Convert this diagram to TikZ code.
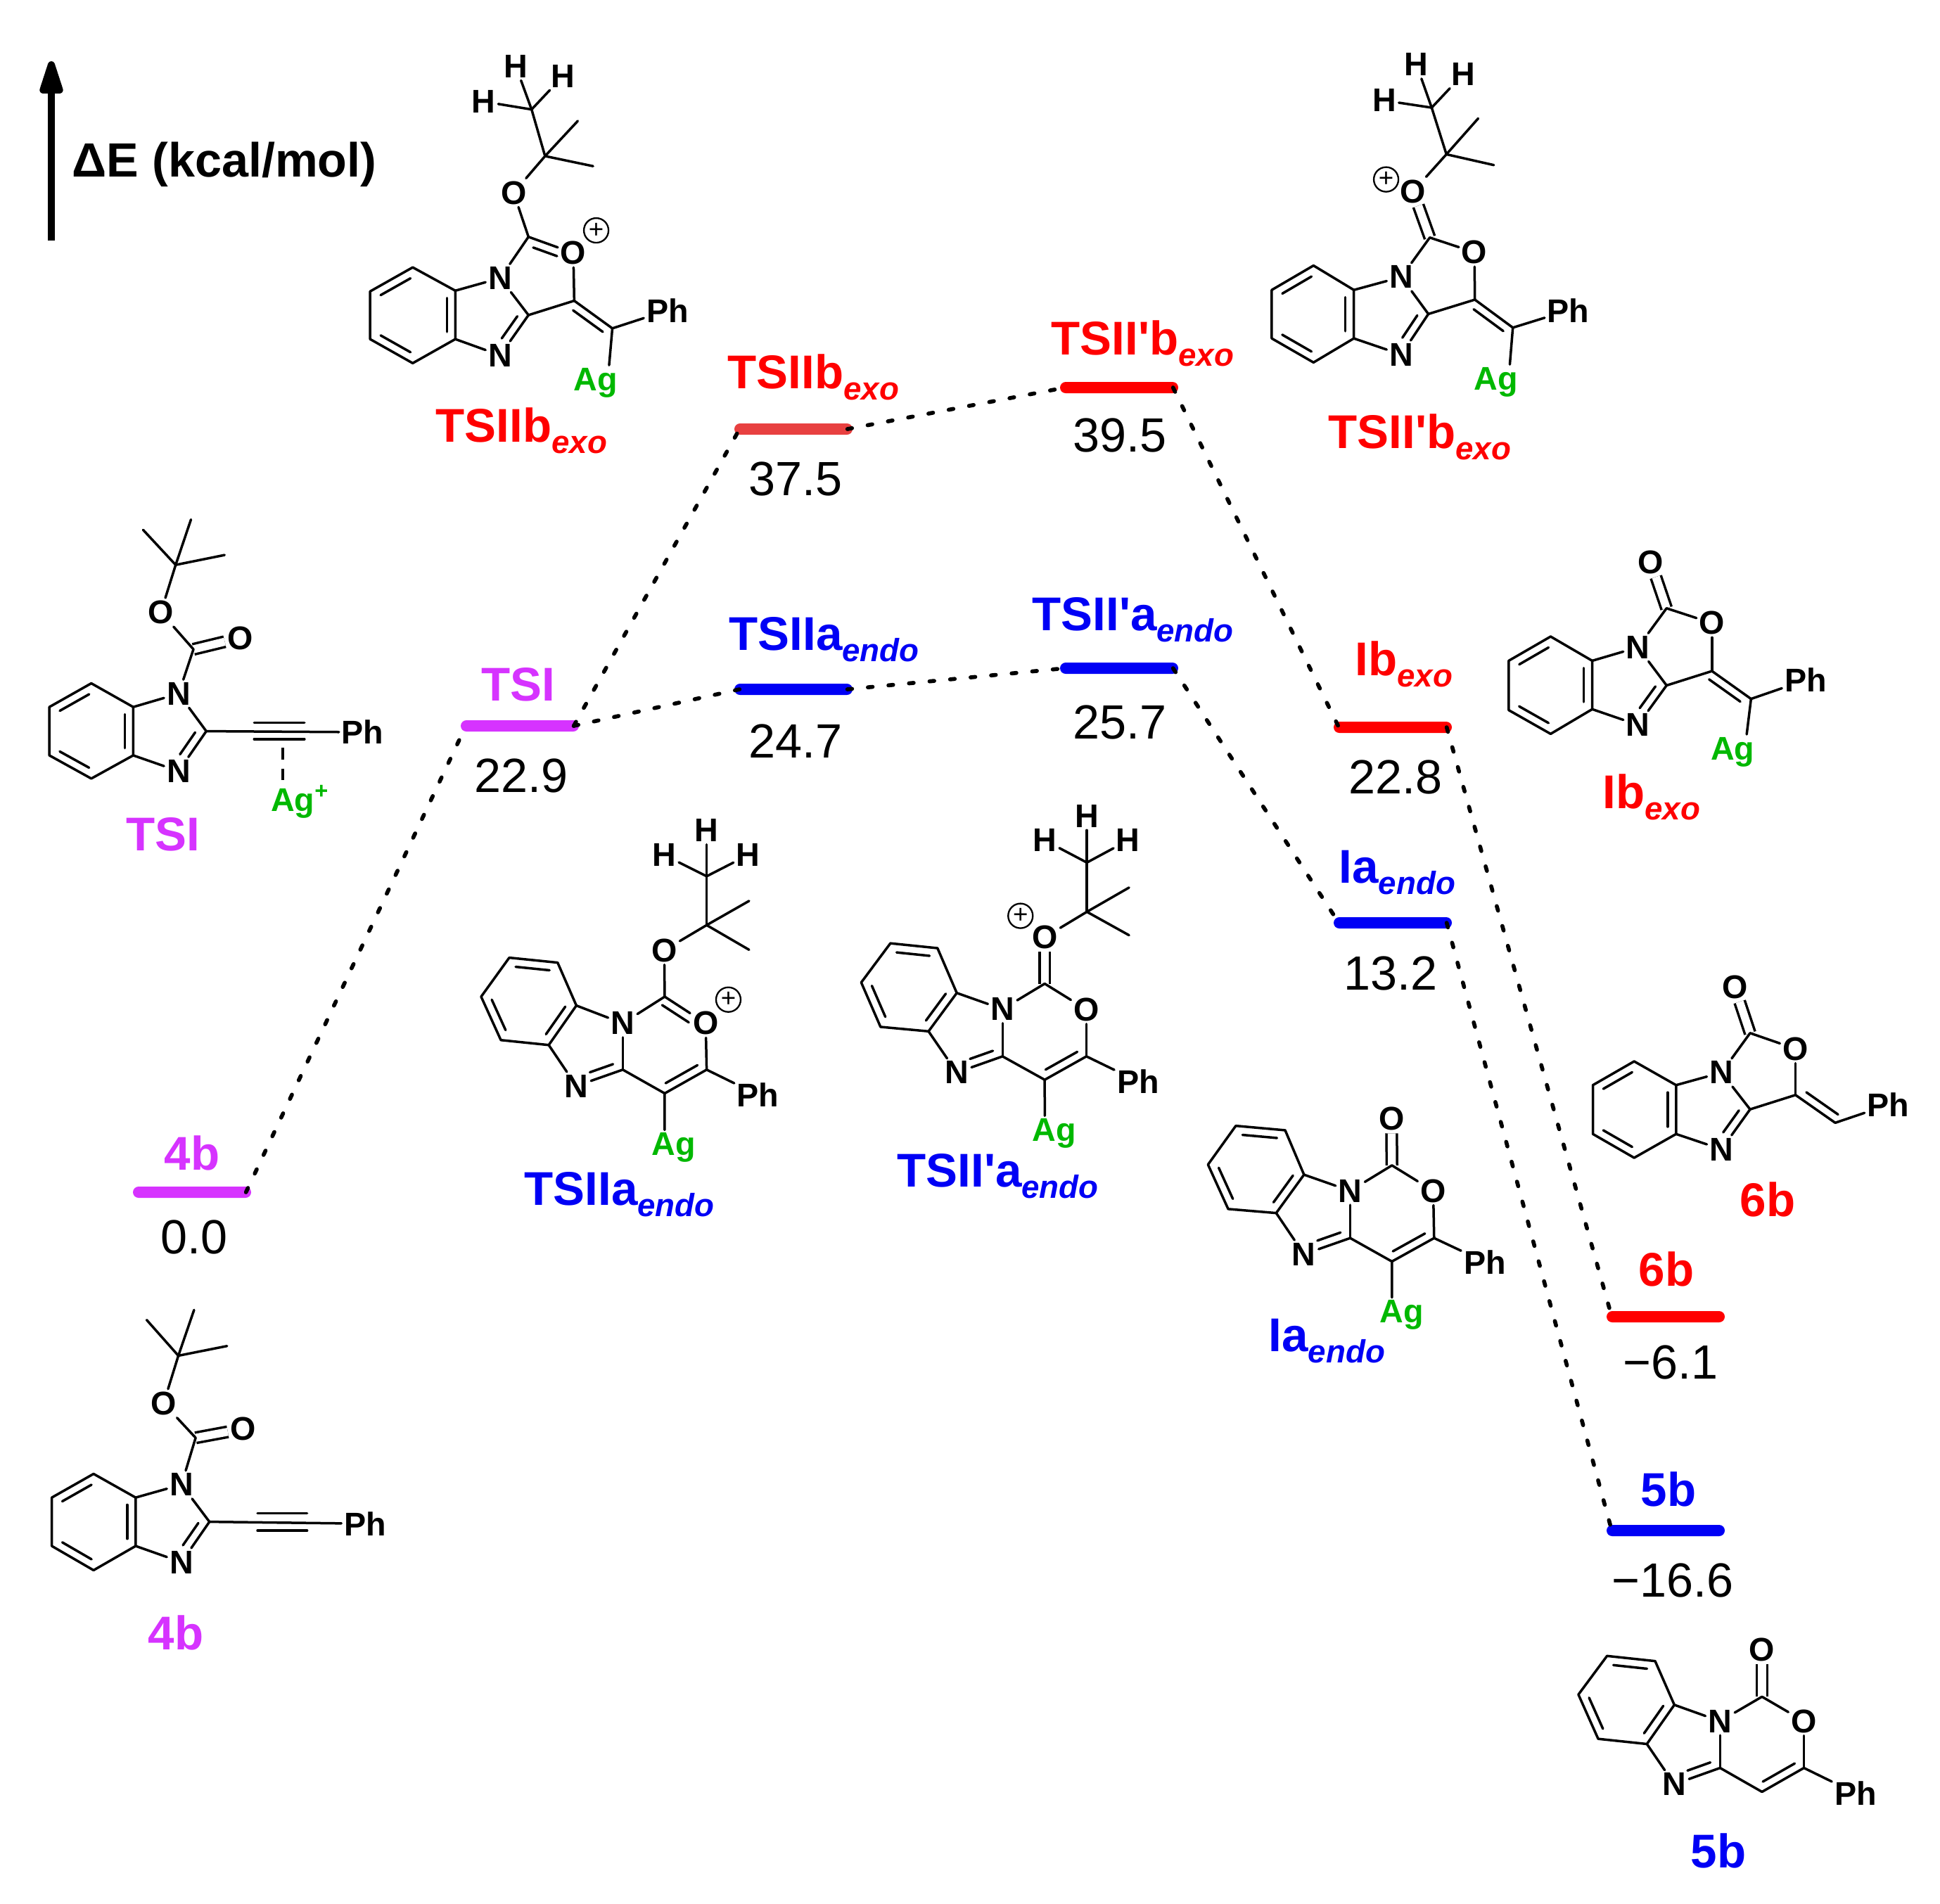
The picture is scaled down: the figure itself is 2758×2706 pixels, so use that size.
\documentclass[tikz,border=0pt]{standalone}
\usepackage{fontspec}
\setmainfont{Liberation Sans}
\usetikzlibrary{calc,arrows.meta}
\definecolor{agreen}{RGB}{0,184,0}
\definecolor{mag}{RGB}{214,51,255}
\definecolor{pblue}{RGB}{0,0,245}
\definecolor{pred}{RGB}{255,0,0}
\definecolor{sred}{RGB}{232,64,64}
\tikzset{
 bond/.style={line width=1.05pt,line cap=round,line join=round},
 dbl/.style={line width=1.05pt,double,double distance=3.4pt},
 atom/.style={font=\bfseries\fontsize{14}{16}\selectfont,inner sep=1pt},
 ag/.style={atom,text=agreen,yshift=-1pt},
 charge/.style={circle,draw,line width=.7pt,inner sep=0pt,minimum size=10.5pt,font=\fontsize{11}{11}\selectfont},
 lvl/.style={rectangle,fill=#1,rounded corners=2.4pt,minimum height=4.8pt,minimum width=50.4pt,inner sep=0pt},
 conn/.style={line width=1.7pt,line cap=round,dash pattern=on 2pt off 6.8pt},
 num/.style={font=\fontsize{20.5}{25}\selectfont,inner sep=0pt},
 lab/.style={font=\bfseries\fontsize{20.2}{24}\selectfont,text=#1,inner sep=0pt},
 labw/.style={lab=#1,anchor=base west},
 z1/.style={shift={(0,0)},x=.19133pt,y=-.15306pt},
 z2/.style={shift={(1700,0)},x=.20243pt,y=-.15306pt},
 z3/.style={shift={(0,700)},x=.21046pt,y=-.21046pt},
 z4/.style={shift={(1100,1100)},x=.19133pt,y=-.17222pt},
 z5/.style={shift={(2050,750)},x=.13546pt,y=-.19133pt},
 z6/.style={shift={(2100,2100)},x=.12589pt,y=-.11594pt},
 z7/.style={shift={(0,1800)},x=.13393pt,y=-.11480pt},
}
\newcommand{\sbs}[1]{\raisebox{-5pt}{\fontsize{13.7}{16}\selectfont\itshape #1}}
\newcommand{\dl}[4]{\draw[bond] ($(#1)!#3!(#2)!3.6pt!90:(#2)$) -- ($(#2)!#4!(#1)!3.6pt!-90:(#1)$);}
\newcommand{\dr}[4]{\draw[bond] ($(#1)!#3!(#2)!3.6pt!-90:(#2)$) -- ($(#2)!#4!(#1)!3.6pt!90:(#1)$);}
\newcommand{\ringpts}[6]{\coordinate (b1) at #1;\coordinate (b2) at #2;\coordinate (b3) at #3;\coordinate (b4) at #4;\coordinate (b5) at #5;\coordinate (b6) at #6;
 \draw[bond] (b1)--(b2)--(b3)--(b4)--(b5)--(b6)--cycle;}
\newcommand{\ringccw}[6]{\ringpts{#1}{#2}{#3}{#4}{#5}{#6}\dl{b1}{b2}{.15}{.15}\dl{b3}{b4}{.15}{.15}\dl{b5}{b6}{.15}{.15}}
\newcommand{\ringcw}[6]{\ringpts{#1}{#2}{#3}{#4}{#5}{#6}\dr{b1}{b2}{.15}{.15}\dr{b3}{b4}{.15}{.15}\dr{b5}{b6}{.15}{.15}}
\newcommand{\bonds}[1]{\foreach \pa/\pb in {#1}{\draw[bond] (\pa)--(\pb);}}
\begin{document}
\begin{tikzpicture}[x=.3pt,y=-.3pt]
\path[use as bounding box,fill=white] (0,0) rectangle (2758,2706);

% axis
\coordinate (axb) at (73,342);
\coordinate (axt) at (73,87);
\draw[line width=3pt,-{Triangle[length=17.7pt,width=10.2pt,round]}] (axb) -- (axt);
\node[font=\bfseries\fontsize{20.5}{24}\selectfont,inner sep=0pt,anchor=base west] (axlab) at (102,251) {ΔE (kcal/mol)};

% levels
\node[lvl=mag] (L4b) at (273,1695) {};
\node[lvl=mag] (LTSI) at (739,1032) {};
\node[lvl=sred] (LIIb) at (1128,610) {};
\node[lvl=pred] (LIIpb) at (1591,551) {};
\node[lvl=pblue] (LIIa) at (1128,980) {};
\node[lvl=pblue] (LIIpa) at (1591,950) {};
\node[lvl=pred] (LIb) at (1980,1034) {};
\node[lvl=pblue] (LIa) at (1980,1312) {};
\node[lvl=pred] (L6b) at (2368,1872) {};
\node[lvl=pblue] (L5b) at (2368,2176) {};

\draw[conn] ([xshift=-2.4pt]L4b.east) -- ([xshift=2.4pt]LTSI.west);
\draw[conn] ([xshift=-2.4pt]LTSI.east) -- ([xshift=2.4pt]LIIb.west);
\draw[conn] ([xshift=-2.4pt]LTSI.east) -- ([xshift=2.4pt]LIIa.west);
\draw[conn] ([xshift=-2.4pt]LIIb.east) -- ([xshift=2.4pt]LIIpb.west);
\draw[conn] ([xshift=-2.4pt]LIIa.east) -- ([xshift=2.4pt]LIIpa.west);
\draw[conn] ([xshift=-2.4pt]LIIpb.east) -- ([xshift=2.4pt]LIb.west);
\draw[conn] ([xshift=-2.4pt]LIIpa.east) -- ([xshift=2.4pt]LIa.west);
\draw[conn] ([xshift=-2.4pt]LIb.east) -- ([xshift=2.4pt]L6b.west);
\draw[conn] ([xshift=-2.4pt]LIa.east) -- ([xshift=2.4pt]L5b.west);

% level labels and values
\node[lab=mag] (t4b) at (273,1639) {4b};
\node[num] (v4b) at (276,1759) {0.0};
\node[lab=mag] (tTSI) at (737,973) {TSI};
\node[num] (vTSI) at (741,1103) {22.9};
\node[labw=pred] (tIIb) at (1034,552) {TSIIb\sbs{exo}};
\node[num] (vIIb) at (1131,681) {37.5};
\node[labw=pred] (tIIpb) at (1494,504) {TSII\textquotesingle b\sbs{exo}};
\node[num] (vIIpb) at (1592,619) {39.5};
\node[labw=pblue] (tIIa) at (1036,924) {TSIIa\sbs{endo}};
\node[num] (vIIa) at (1131,1054) {24.7};
\node[labw=pblue] (tIIpa) at (1467,896) {TSII\textquotesingle a\sbs{endo}};
\node[num] (vIIpa) at (1592,1027) {25.7};
\node[labw=pred] (tIb) at (1926,960) {Ib\sbs{exo}};
\node[num] (vIb) at (1984,1105) {22.8};
\node[labw=pblue] (tIa) at (1903,1255) {Ia\sbs{endo}};
\node[num] (vIa) at (1977,1384) {13.2};
\node[lab=pred] (t6b) at (2369,1804) {6b};
\node[num] (v6b) at (2375,1937) {−6.1};
\node[lab=pblue] (t5b) at (2372,2117) {5b};
\node[num] (v5b) at (2378,2247) {−16.6};

% compound labels
\node[labw=pred] (cIIb) at (619,628) {TSIIb\sbs{exo}};
\node[labw=pred] (cIIpb) at (1888,637) {TSII\textquotesingle b\sbs{exo}};
\node[lab=mag] (cTSI) at (232,1186) {TSI};
\node[lab=mag] (c4b) at (250,2321) {4b};
\node[labw=pblue] (cIIa) at (745,1713) {TSIIa\sbs{endo}};
\node[labw=pblue] (cIIpa) at (1275,1687) {TSII\textquotesingle a\sbs{endo}};
\node[labw=pblue] (cIa) at (1803,1921) {Ia\sbs{endo}};
\node[labw=pred] (cIb) at (2278,1149) {Ib\sbs{exo}};
\node[lab=pred] (c6b) at (2513,1705) {6b};
\node[lab=pblue] (c5b) at (2443,2631) {5b};

% TSIIb exo structure
\begin{scope}[z1,name prefix=A-]
\ringccw{(920,745)}{(825,812)}{(825,945)}{(920,1012)}{(1015,945)}{(1015,810)}
\node[atom] (N1) at (1115,775) {N};
\node[atom] (N3) at (1115,990) {N};
\coordinate (C2) at (1178,878);
\coordinate (C5) at (1280,838);
\node[atom] (O1) at (1278,705) {O};
\coordinate (Cc) at (1178,660);
\node[atom] (O2) at (1145,537) {O};
\coordinate (Cq) at (1215,435);
\coordinate (M1) at (1288,337);
\coordinate (M2) at (1322,463);
\coordinate (Cm) at (1185,305);
\node[atom] (H1) at (1150,185) {H};
\node[atom] (H2) at (1255,212) {H};
\node[atom] (H3) at (1078,283) {H};
\coordinate (C6) at (1365,915);
\node[atom] (Ph) at (1488,865) {Ph};
\node[ag] (Ag) at (1328,1060) {Ag};
\node[charge] (ch) at (1329,642) {+};
\bonds{N1/b6,N3/b5,N1/C2,N3/C2,C2/C5,C5/O1,Cc/O1,N1/Cc,Cc/O2,O2/Cq,Cq/M1,Cq/M2,Cq/Cm,Cm/H1,Cm/H2,Cm/H3,C5/C6,C6/Ph}
\dl{N3}{C2}{.3}{.15}
\dr{Cc}{O1}{.17}{.3}
\dr{C5}{C6}{.1}{.12}
\draw[bond] (C6) -- ([xshift=5.7pt]Ag.north);
\end{scope}

% TSII'b exo structure
\begin{scope}[z2,name prefix=B-]
\ringccw{(248,740)}{(160,808)}{(160,943)}{(248,1010)}{(333,943)}{(333,808)}
\node[atom] (N1) at (433,772) {N};
\node[atom] (N3) at (433,988) {N};
\coordinate (C2) at (490,875);
\coordinate (C5) at (588,835);
\node[atom] (O1) at (587,703) {O};
\coordinate (Cc) at (493,662);
\node[atom] (O2) at (458,533) {O};
\draw[dbl] (Cc) -- (O2);
\coordinate (Cq) at (528,430);
\coordinate (M1) at (595,330);
\coordinate (M2) at (628,460);
\coordinate (Cm) at (497,300);
\node[atom] (H1) at (465,180) {H};
\node[atom] (H2) at (563,207) {H};
\node[atom] (H3) at (397,280) {H};
\coordinate (C6) at (668,913);
\node[atom] (Ph) at (785,865) {Ph};
\node[ag] (Ag) at (632,1058) {Ag};
\node[charge] (ch) at (401,500) {+};
\bonds{N1/b6,N3/b5,N1/C2,N3/C2,C2/C5,C5/O1,Cc/O1,N1/Cc,O2/Cq,Cq/M1,Cq/M2,Cq/Cm,Cm/H1,Cm/H2,Cm/H3,C5/C6,C6/Ph}
\dl{N3}{C2}{.3}{.15}
\dr{C5}{C6}{.1}{.12}
\draw[bond] (C6) -- ([xshift=6pt]Ag.north);
\end{scope}

% TSI structure
\begin{scope}[z3,name prefix=C-]
\ringccw{(185,387)}{(100,435)}{(100,533)}{(185,580)}{(270,533)}{(270,435)}
\node[atom] (N1) at (362,408) {N};
\node[atom] (N3) at (362,565) {N};
\coordinate (C2) at (418,484);
\coordinate (Cc) at (392,318);
\node[atom] (O2) at (326,243) {O};
\node[atom] (O1) at (487,295) {O};
\draw[dbl] (Cc) -- (O1);
\coordinate (Cq) at (356,147);
\coordinate (M1) at (290,76);
\coordinate (M2) at (387,55);
\coordinate (M3) at (455,127);
\node[atom] (Ph) at (735,486) {Ph};
\coordinate (t1) at (515,467);
\coordinate (t2) at (617,467);
\coordinate (t3) at (515,500);
\coordinate (t4) at (617,500);
\coordinate (dt) at (573,518);
\node[ag,yshift=-.5pt] (Ag) at (608,620) {Ag\textsuperscript{+}};
\bonds{N1/b6,N3/b5,N1/C2,N3/C2,N1/Cc,Cc/O2,O2/Cq,Cq/M1,Cq/M2,Cq/M3,C2/Ph,t1/t2,t3/t4}
\dl{N3}{C2}{.3}{.15}
\draw[line width=1.05pt,dash pattern=on 5pt off 3.8pt] (dt) -- (dt |- Ag.north);
\end{scope}

% 4b structure
\begin{scope}[z7,name prefix=D-]
\ringccw{(298,772)}{(165,860)}{(165,1040)}{(298,1130)}{(432,1040)}{(432,860)}
\node[atom] (N1) at (578,812) {N};
\node[atom] (N3) at (578,1100) {N};
\coordinate (C2) at (667,950);
\coordinate (Cc) at (623,638);
\node[atom] (O2) at (521,510) {O};
\node[atom] (O1) at (775,605) {O};
\draw[dbl] (Cc) -- (O1);
\coordinate (Cq) at (568,333);
\coordinate (M1) at (467,200);
\coordinate (M2) at (618,163);
\coordinate (M3) at (723,297);
\node[atom] (Ph) at (1163,957) {Ph};
\coordinate (t1) at (820,918);
\coordinate (t2) at (978,918);
\coordinate (t3) at (820,983);
\coordinate (t4) at (978,983);
\bonds{N1/b6,N3/b5,N1/C2,N3/C2,N1/Cc,Cc/O2,O2/Cq,Cq/M1,Cq/M2,Cq/M3,C2/Ph,t1/t2,t3/t4}
\dl{N3}{C2}{.3}{.15}
\end{scope}

% TSIIa endo structure
\begin{scope}[z3,name prefix=E-]
\ringcw{(1032,943)}{(1130,953)}{(1168,1040)}{(1112,1120)}{(1015,1110)}{(975,1022)}
\node[atom] (N1) at (1262,1076) {N};
\node[atom] (N3) at (1168,1203) {N};
\coordinate (C2) at (1262,1170);
\coordinate (C4) at (1347,1218);
\coordinate (C5) at (1432,1170);
\node[atom] (O1) at (1430,1076) {O};
\coordinate (Cc) at (1347,1022);
\node[atom] (O2) at (1346,928) {O};
\coordinate (Cq) at (1432,877);
\coordinate (M1) at (1518,828);
\coordinate (M2) at (1518,927);
\coordinate (Cm) at (1432,778);
\node[atom] (H1) at (1432,685) {H};
\node[atom] (H2) at (1346,735) {H};
\node[atom] (H3) at (1516,735) {H};
\node[atom] (Ph) at (1536,1221) {Ph};
\node[ag] (Ag) at (1365,1323) {Ag};
\node[charge] (ch) at (1476,1028) {+};
\bonds{b3/N1,b4/N3,N1/C2,N3/C2,C2/C4,C4/C5,C5/O1,Cc/O1,N1/Cc,Cc/O2,O2/Cq,Cq/M1,Cq/M2,Cq/Cm,Cm/H1,Cm/H2,Cm/H3,C5/Ph}
\dl{N3}{C2}{.35}{.15}
\dl{C4}{C5}{.12}{.12}
\dr{Cc}{O1}{.05}{.3}
\draw[bond] (C4) -- ([xshift=-3.8pt]Ag.north);
\end{scope}

% TSII'a endo structure
\begin{scope}[z4,name prefix=F-]
\ringcw{(260,420)}{(365,432)}{(408,543)}{(345,638)}{(238,627)}{(195,517)}
\node[atom] (N1) at (510,583) {N};
\node[atom] (N3) at (408,740) {N};
\coordinate (C2) at (510,700);
\coordinate (C4) at (604,758);
\coordinate (C5) at (697,700);
\node[atom] (O1) at (697,584) {O};
\coordinate (Cc) at (604,520);
\node[atom] (O2) at (604,405) {O};
\draw[dbl] (Cc) -- (O2);
\coordinate (Cq) at (698,342);
\coordinate (M1) at (792,282);
\coordinate (M2) at (792,400);
\coordinate (Cm) at (698,220);
\node[atom] (H1) at (698,105) {H};
\node[atom] (H2) at (604,165) {H};
\node[atom] (H3) at (790,165) {H};
\node[atom] (Ph) at (812,762) {Ph};
\node[ag] (Ag) at (625,885) {Ag};
\node[charge] (ch) at (550,352) {+};
\bonds{b3/N1,b4/N3,N1/C2,N3/C2,C2/C4,C4/C5,C5/O1,Cc/O1,N1/Cc,O2/Cq,Cq/M1,Cq/M2,Cq/Cm,Cm/H1,Cm/H2,Cm/H3,C5/Ph}
\dl{N3}{C2}{.35}{.15}
\dl{C4}{C5}{.12}{.12}
\draw[bond] (C4) -- ([xshift=-4pt]Ag.north);
\end{scope}

% Ia endo structure
\begin{scope}[z4,name prefix=G-]
\ringcw{(1030,872)}{(1140,883)}{(1182,993)}{(1120,1088)}{(1013,1078)}{(968,968)}
\node[atom] (N1) at (1285,1033) {N};
\node[atom] (N3) at (1182,1190) {N};
\coordinate (C2) at (1285,1150);
\coordinate (C4) at (1378,1208);
\coordinate (C5) at (1472,1150);
\node[atom] (O1) at (1470,1033) {O};
\coordinate (Cc) at (1378,970);
\node[atom] (O2) at (1377,855) {O};
\draw[dbl] (Cc) -- (O2);
\node[atom] (Ph) at (1585,1209) {Ph};
\node[ag] (Ag) at (1400,1335) {Ag};
\bonds{b3/N1,b4/N3,N1/C2,N3/C2,C2/C4,C4/C5,C5/O1,Cc/O1,N1/Cc,C5/Ph}
\dl{N3}{C2}{.35}{.15}
\dl{C4}{C5}{.12}{.12}
\draw[bond] (C4) -- ([xshift=-4.2pt]Ag.north);
\end{scope}

% Ib exo structure
\begin{scope}[z5,name prefix=H-]
\ringccw{(342,243)}{(210,297)}{(210,407)}{(342,460)}{(473,405)}{(473,297)}
\node[atom] (N1) at (617,267) {N};
\node[atom] (N3) at (617,440) {N};
\coordinate (C2) at (707,352);
\coordinate (C5) at (850,320);
\node[atom] (O1) at (850,213) {O};
\coordinate (Cc) at (707,180);
\node[atom] (O2) at (658,78) {O};
\draw[dbl] (Cc) -- (O2);
\coordinate (C6) at (973,382);
\node[atom] (Ph) at (1145,340) {Ph};
\node[ag] (Ag) at (915,495) {Ag};
\bonds{N1/b6,N3/b5,N1/C2,N3/C2,C2/C5,C5/O1,Cc/O1,N1/Cc,C5/C6,C6/Ph}
\dl{N3}{C2}{.3}{.15}
\dr{C5}{C6}{.05}{.15}
\draw[bond] (C6) -- ([xshift=6pt]Ag.north);
\end{scope}

% 6b structure
\begin{scope}[z5,name prefix=I-]
\ringccw{(605,1190)}{(475,1243)}{(475,1352)}{(605,1405)}{(737,1352)}{(737,1243)}
\node[atom] (N1) at (880,1215) {N};
\node[atom] (N3) at (880,1386) {N};
\coordinate (C2) at (970,1297);
\coordinate (C5) at (1113,1265);
\node[atom] (O1) at (1113,1162) {O};
\coordinate (Cc) at (970,1127);
\node[atom] (O2) at (922,1025) {O};
\draw[dbl] (Cc) -- (O2);
\coordinate (C6) at (1238,1327);
\node[atom] (Ph) at (1405,1287) {Ph};
\bonds{N1/b6,N3/b5,N1/C2,N3/C2,C2/C5,C5/O1,Cc/O1,N1/Cc,C5/C6,C6/Ph}
\dl{N3}{C2}{.3}{.15}
\dl{C5}{C6}{.15}{.05}
\end{scope}

% 5b structure
\begin{scope}[z6,name prefix=J-]
\ringcw{(440,658)}{(603,677)}{(668,838)}{(575,982)}{(410,963)}{(343,800)}
\node[atom] (N1) at (823,898) {N};
\node[atom] (N3) at (668,1130) {N};
\coordinate (C2) at (823,1070);
\coordinate (C4) at (965,1158);
\coordinate (C5) at (1107,1070);
\node[atom] (O1) at (1107,898) {O};
\coordinate (Cc) at (965,808);
\node[atom] (O2) at (965,635) {O};
\draw[dbl] (Cc) -- (O2);
\node[atom] (Ph) at (1282,1163) {Ph};
\bonds{b3/N1,b4/N3,N1/C2,N3/C2,C2/C4,C4/C5,C5/O1,Cc/O1,N1/Cc,C5/Ph}
\dl{N3}{C2}{.35}{.15}
\dl{C4}{C5}{.12}{.12}
\end{scope}
\end{tikzpicture}
\end{document}
